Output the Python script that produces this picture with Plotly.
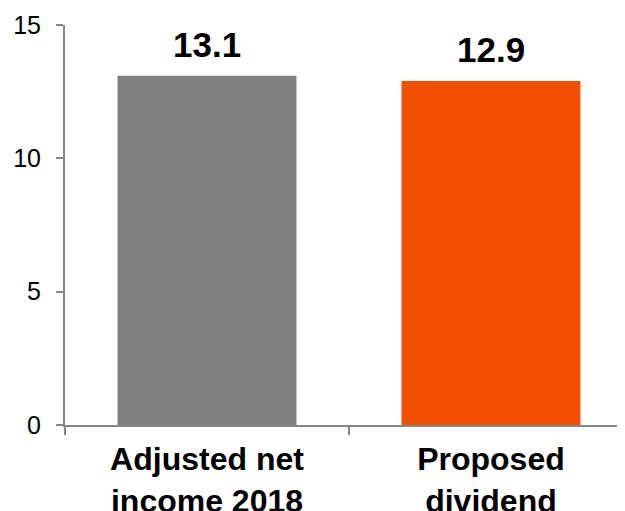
import plotly.graph_objects as go

categories = ["Adjusted net<br>income 2018", "Proposed<br>dividend"]
values = [13.1, 12.9]
labels = ["13.1", "12.9"]
colors = ["#808080", "#F25000"]
y_ticks = [0, 5, 10, 15]

FONT = "Arial, Liberation Sans, sans-serif"

fig = go.Figure()
fig.add_trace(go.Bar(
    x=categories, y=values, marker=dict(color=colors, line=dict(width=0)),
    width=0.63, hoverinfo="skip"
))

for c, v, t in zip(categories, values, labels):
    fig.add_annotation(x=c, y=v, text=f"<b>{t}</b>", showarrow=False,
                       yanchor="bottom", yshift=10,
                       font=dict(family=FONT, size=35, color="black"))

# page body has an 8px default margin; compensate so the plot lands where the reference has it
fig.update_layout(
    width=617, height=503,
    margin=dict(l=57, r=0, t=17, b=86),
    plot_bgcolor="white", paper_bgcolor="white",
    showlegend=False,
    font=dict(family=FONT, color="black"),
    xaxis=dict(
        type="category", range=[-0.5, 1.472], automargin=False,
        showline=True, linecolor="#868686", linewidth=2,
        ticks="outside", tickson="boundaries", ticklen=8, tickwidth=2, tickcolor="#868686",
        tickfont=dict(family=FONT, size=32, color="black", weight="bold"),
        ticklabelstandoff=5,
        showgrid=False, zeroline=False,
    ),
    yaxis=dict(
        range=[0, 15], tickvals=y_ticks, automargin=False,
        showline=True, linecolor="#868686", linewidth=2,
        ticks="outside", ticklen=7, tickwidth=2, tickcolor="#868686",
        tickfont=dict(family=FONT, size=25, color="black"),
        ticklabelstandoff=10,
        showgrid=False, zeroline=False,
    ),
)

fig.write_html("out.html")
